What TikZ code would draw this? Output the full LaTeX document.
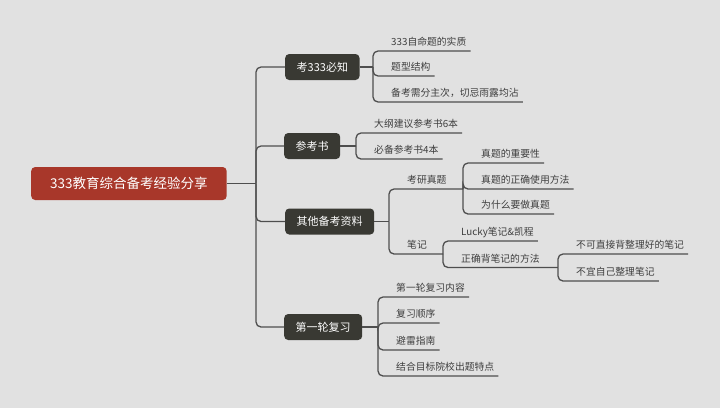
\documentclass[tikz,border=0pt]{standalone}
\usepackage{fontspec}
\setmainfont{Noto Sans CJK SC}
\definecolor{bgcol}{HTML}{E1E1E1}
\definecolor{rootred}{HTML}{A8372A}
\definecolor{maindark}{HTML}{393933}
\definecolor{linegray}{HTML}{4E4E4E}
\definecolor{leaftext}{HTML}{3E3E3E}
\begin{document}
\begin{tikzpicture}[x=1pt,y=-1pt,
  rootbox/.style={fill=rootred, text=white, rounded corners=4pt, font=\fontsize{13.5}{16}\selectfont, minimum height=33pt, inner xsep=19pt, inner ysep=0pt, anchor=west},
  mainbox/.style={fill=maindark, text=white, rounded corners=4pt, font=\fontsize{11}{13}\selectfont, minimum height=26pt, inner xsep=11.5pt, inner ysep=0pt, anchor=west},
  leaf/.style={anchor=south west, inner sep=0pt, text depth=5pt, text height=9pt, font=\fontsize{9.8}{12}\selectfont, text=leaftext},
  conn/.style={draw=linegray, line width=1.3pt, rounded corners=5pt}]
\fill[bgcol] (0,0) rectangle (720,408);
\useasboundingbox (0,0) rectangle (720,408);
\newcommand{\lt}[1]{\kern18pt #1\kern4pt}
% root and main nodes
\node[rootbox] (root) at (31,183.5) {333教育综合备考经验分享};
\coordinate (t) at (256,183.5);
\node[mainbox] (n1) at (285,67) {考333必知};
\node[mainbox] (n2) at (284,146) {参考书};
\node[mainbox] (n3) at (285,221.5) {其他备考资料};
\node[mainbox] (n4) at (284,327) {第一轮复习};
\coordinate (b1) at (373,67);
\coordinate (b2) at (356,146);
\coordinate (b3) at (389,221.5);
\coordinate (b4) at (378,327);
% leaves
\node[leaf] (c11) at (373,51) {\lt{333自命题的实质}};
\node[leaf] (c12) at (373,76) {\lt{题型结构}};
\node[leaf] (c13) at (373,102) {\lt{备考需分主次，切忌雨露均沾}};
\node[leaf] (c21) at (356,133) {\lt{大纲建议参考书6本}};
\node[leaf] (c22) at (356,159) {\lt{必备参考书4本}};
\node[leaf] (k1) at (389,189) {\lt{考研真题}};
\coordinate (bk1) at (463,189);
\node[leaf] (c31) at (463,163) {\lt{真题的重要性}};
\node[leaf] (c32) at (463,189) {\lt{真题的正确使用方法}};
\node[leaf] (c33) at (463,214) {\lt{为什么要做真题}};
\node[leaf] (k2) at (389,254) {\lt{笔记}};
\coordinate (bk2) at (443,254);
\node[leaf] (c34) at (443,241) {\lt{Lucky笔记\&凯程}};
\node[leaf] (k3) at (443,267.5) {\lt{正确背笔记的方法}};
\coordinate (bk3) at (558,267.5);
\node[leaf] (c35) at (558,254) {\lt{不可直接背整理好的笔记}};
\node[leaf] (c36) at (558,281) {\lt{不宜自己整理笔记}};
\node[leaf] (c41) at (378,297) {\lt{第一轮复习内容}};
\node[leaf] (c42) at (378,323) {\lt{复习顺序}};
\node[leaf] (c43) at (378,350) {\lt{避雷指南}};
\node[leaf] (c44) at (378,376) {\lt{结合目标院校出题特点}};
% connectors
\draw[conn] (root.east) -- (t);
\foreach \n in {n1,n2,n3,n4} \draw[conn] (t) |- (\n.west);
\draw[conn] (n1.east) -- (b1);
\draw[conn] (n2.east) -- (b2);
\draw[conn] (n3.east) -- (b3);
\draw[conn] (n4.east) -- (b4);
\foreach \c in {c11,c12,c13} \draw[conn] (b1) |- (\c.south east);
\foreach \c in {c21,c22} \draw[conn] (b2) |- (\c.south east);
\draw[conn] (b3) |- (bk1);
\draw[conn] (b3) |- (bk2);
\foreach \c in {c31,c32,c33} \draw[conn] (bk1) |- (\c.south east);
\draw[conn] (bk2) |- (c34.south east);
\draw[conn] (bk2) |- (bk3);
\foreach \c in {c35,c36} \draw[conn] (bk3) |- (\c.south east);
\foreach \c in {c41,c42,c43,c44} \draw[conn] (b4) |- (\c.south east);
\end{tikzpicture}
\end{document}
